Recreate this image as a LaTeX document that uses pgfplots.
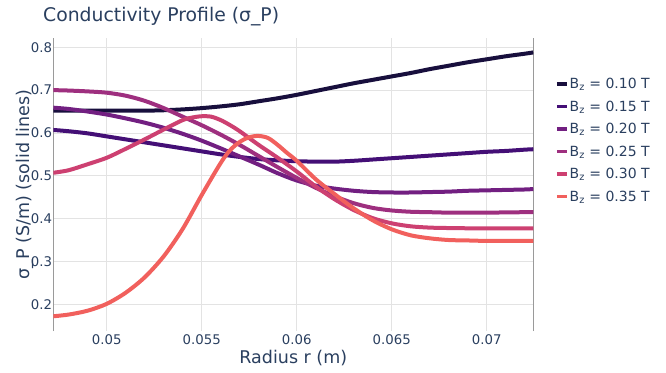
\documentclass[border=0pt]{standalone}
\usepackage{pgfplots}
\pgfplotsset{compat=1.18}
\usepackage{fontspec}
\setmainfont{DejaVu Sans}
\definecolor{txt}{HTML}{2A3F5F}
\definecolor{cA}{HTML}{180F3D}
\definecolor{cB}{HTML}{440F76}
\definecolor{cC}{HTML}{721F81}
\definecolor{cD}{HTML}{9E2F7F}
\definecolor{cE}{HTML}{CD4071}
\definecolor{cF}{HTML}{F1605D}
\definecolor{gridc}{HTML}{E3E3E3}
\definecolor{axc}{HTML}{9A9A9A}
\begin{document}
\begin{tikzpicture}
\useasboundingbox (0,0) rectangle (666pt,372pt);
\node[anchor=base west, text=txt, font=\fontsize{18.8}{22}\selectfont, inner sep=0pt] at (43pt,350.5pt) {Conductivity Profile (σ\_P)};
\begin{axis}[
  at={(53.3pt,41pt)}, anchor=south west,
  scale only axis, width=480pt, height=292.7pt,
  xmin=0.04719, xmax=0.07245, ymin=0.1376, ymax=0.821,
  scaled x ticks=false, scaled y ticks=false,
  xtick={0.05,0.055,0.06,0.065,0.07},
  xticklabels={0.05,0.055,0.06,0.065,0.07},
  ytick={0.2,0.3,0.4,0.5,0.6,0.7,0.8},
  yticklabels={0.2,0.3,0.4,0.5,0.6,0.7,0.8},
  /pgf/number format/assume math mode=true,
  grid=major, major grid style={gridc, line width=0.8pt},
  tick style={draw=none},
  separate axis lines,
  x axis line style={draw=none},
  y axis line style={axc, line width=1pt},
  ticklabel style={text=txt, font=\fontsize{13.3}{16}\selectfont},
  yticklabel style={inner sep=1pt},
  xlabel={Radius r (m)},
  ylabel={σ\_P (S/m) (solid lines)},
  label style={text=txt, font=\fontsize{17.5}{21}\selectfont},
  xlabel style={at={(axis description cs:0.5,0)}, anchor=center, yshift=-27pt},
  ylabel style={at={(axis description cs:-0.0594,0.5)}, anchor=center},
  legend style={at={(rel axis cs:1,1)}, anchor=north west, xshift=21.7pt, yshift=-38.7pt,
    draw=none, fill=none, inner sep=0pt, row sep=8.6pt,
    font=\fontsize{14}{17}\selectfont, text=txt,
    nodes={inner sep=1pt}},
  legend cell align=left,
  legend image code/.code={\draw[line width=3.5pt] (0pt,0pt) -- (10pt,0pt);},
  every axis plot/.append style={line width=4pt, line join=round},
]
\addplot[cA, smooth] table {
0.04719 0.652
0.048 0.652
0.049 0.652
0.050 0.652
0.051 0.652
0.052 0.652
0.053 0.653
0.054 0.655
0.055 0.658
0.056 0.662
0.057 0.667
0.058 0.674
0.059 0.681
0.060 0.689
0.061 0.698
0.062 0.707
0.063 0.716
0.064 0.724
0.065 0.732
0.066 0.740
0.067 0.749
0.068 0.757
0.069 0.765
0.070 0.772
0.071 0.779
0.072 0.785
0.07245 0.788
};
\addlegendentry{B\textsubscript{z} = 0.10 T}
\addplot[cB, smooth] table {
0.04719 0.607
0.048 0.604
0.049 0.599
0.050 0.592
0.051 0.585
0.052 0.578
0.053 0.571
0.054 0.564
0.055 0.557
0.056 0.550
0.057 0.544
0.058 0.539
0.059 0.536
0.060 0.534
0.061 0.533
0.062 0.533
0.063 0.535
0.064 0.538
0.065 0.541
0.066 0.544
0.067 0.547
0.068 0.550
0.069 0.553
0.070 0.556
0.071 0.558
0.072 0.561
0.07245 0.562
};
\addlegendentry{B\textsubscript{z} = 0.15 T}
\addplot[cC, smooth] table {
0.04719 0.659
0.048 0.656
0.049 0.650
0.050 0.643
0.051 0.634
0.052 0.624
0.053 0.612
0.054 0.598
0.055 0.582
0.056 0.564
0.057 0.545
0.058 0.526
0.059 0.506
0.060 0.489
0.061 0.477
0.062 0.470
0.063 0.465
0.064 0.462
0.065 0.461
0.066 0.461
0.067 0.462
0.068 0.463
0.069 0.465
0.070 0.466
0.071 0.467
0.072 0.468
0.07245 0.469
};
\addlegendentry{B\textsubscript{z} = 0.20 T}
\addplot[cD, smooth] table {
0.04719 0.700
0.048 0.699
0.049 0.697
0.050 0.694
0.051 0.687
0.052 0.675
0.053 0.658
0.054 0.638
0.055 0.618
0.056 0.596
0.057 0.572
0.058 0.546
0.059 0.520
0.060 0.495
0.061 0.472
0.062 0.452
0.063 0.436
0.064 0.425
0.065 0.419
0.066 0.416
0.067 0.415
0.068 0.414
0.070 0.414
0.072 0.415
0.07245 0.415
};
\addlegendentry{B\textsubscript{z} = 0.25 T}
\addplot[cE, smooth] table {
0.04719 0.507
0.048 0.513
0.049 0.527
0.050 0.542
0.051 0.563
0.052 0.585
0.053 0.608
0.054 0.630
0.0545 0.636
0.055 0.639
0.0555 0.638
0.056 0.630
0.0565 0.618
0.057 0.604
0.058 0.572
0.059 0.542
0.060 0.510
0.061 0.475
0.062 0.445
0.063 0.420
0.064 0.401
0.065 0.389
0.066 0.382
0.067 0.379
0.068 0.378
0.070 0.377
0.07245 0.377
};
\addlegendentry{B\textsubscript{z} = 0.30 T}
\addplot[cF, smooth] table {
0.04719 0.172
0.048 0.176
0.049 0.185
0.050 0.201
0.051 0.227
0.052 0.263
0.053 0.312
0.054 0.376
0.055 0.455
0.056 0.530
0.0565 0.560
0.057 0.579
0.0575 0.590
0.058 0.593
0.0585 0.588
0.059 0.572
0.0595 0.553
0.060 0.535
0.061 0.492
0.062 0.457
0.063 0.424
0.064 0.396
0.065 0.375
0.066 0.361
0.067 0.354
0.068 0.350
0.069 0.349
0.070 0.348
0.07245 0.348
};
\addlegendentry{B\textsubscript{z} = 0.35 T}
\end{axis}
\end{tikzpicture}
\end{document}
